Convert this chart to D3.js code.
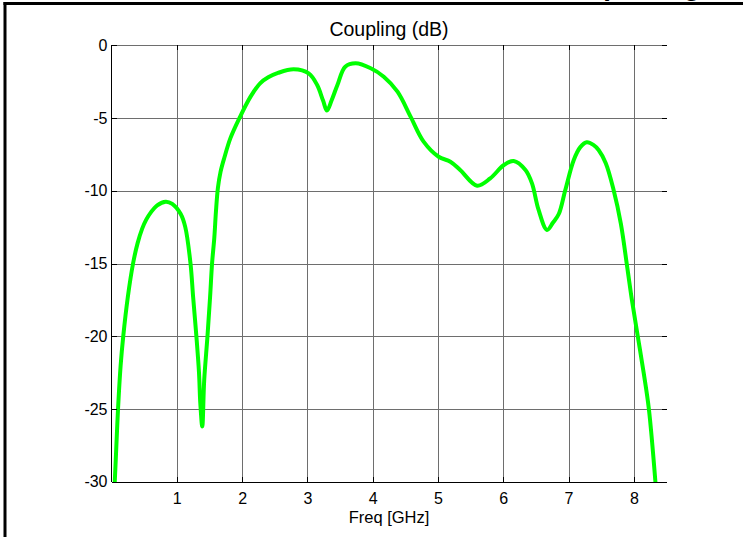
<!DOCTYPE html>
<html>
<head>
<meta charset="utf-8">
<script src="https://cdn.jsdelivr.net/npm/d3@7/dist/d3.min.js"></script>
<style>
  html, body { margin: 0; padding: 0; background: #fff; }
  svg { display: block; }
  text { font-family: "Liberation Sans", Arial, Helvetica, sans-serif; fill: #000; }
</style>
</head>
<body>
<svg id="chart" width="743" height="537"></svg>
<script>
// ---- data ----
const chartTitle = "Coupling (dB)";
const xLabel = "Freq [GHz]";
const clippedHeading = "(Tuning";
const xTicks = [1, 2, 3, 4, 5, 6, 7, 8];
const yTicks = [0, -5, -10, -15, -20, -25, -30];
const freq = [0.05, 0.07, 0.10, 0.14, 0.18, 0.25, 0.33, 0.40, 0.47, 0.53, 0.60, 0.70, 0.83, 0.93, 1.06, 1.13, 1.21, 1.25, 1.30, 1.34, 1.36, 1.39, 1.42, 1.47, 1.51, 1.54, 1.575, 1.60, 1.63, 1.67, 1.73, 1.82, 1.96, 2.13, 2.28, 2.40, 2.55, 2.79, 3.02, 3.15, 3.24, 3.30, 3.37, 3.46, 3.58, 3.74, 3.97, 4.17, 4.38, 4.58, 4.78, 5.01, 5.19, 5.34, 5.60, 5.80, 6.01, 6.16, 6.34, 6.44, 6.54, 6.67, 6.76, 6.85, 6.95, 7.08, 7.18, 7.28, 7.38, 7.46, 7.57, 7.69, 7.80, 7.90, 7.97, 8.06, 8.15, 8.23, 8.33];
const coupling = [-30, -28, -25, -22, -20, -17.3, -15, -13.6, -12.6, -12.0, -11.5, -11.0, -10.75, -10.9, -11.6, -12.5, -15, -17.3, -20, -22.5, -24.6, -26.2, -23, -20, -17.3, -15, -13.2, -11.4, -9.8, -8.7, -7.7, -6.4, -5, -3.53, -2.6, -2.2, -1.9, -1.65, -1.93, -2.73, -3.8, -4.49, -3.8, -2.73, -1.47, -1.24, -1.58, -2.16, -3.19, -4.9, -6.62, -7.66, -8.0, -8.57, -9.65, -9.15, -8.23, -7.95, -8.57, -9.49, -11.3, -12.69, -12.2, -11.6, -9.95, -7.88, -7.0, -6.67, -6.85, -7.2, -8.11, -9.95, -12.24, -15.3, -17.5, -20, -22.5, -25, -30];

(function () {
  const svg = d3.select("#chart");
  const W = 743, H = 537;
  const pL = 111.5, pR = 666.5, pT = 45.3, pB = 481.7;

  const x = d3.scaleLinear().domain([0, 8.5]).range([pL, pR]);
  const y = d3.scaleLinear().domain([-30, 0]).range([pB, pT]);

  svg.append("rect").attr("width", W).attr("height", H).attr("fill", "#fff");

  // grid
  const grid = svg.append("g").attr("stroke", "#6e6e6e").attr("stroke-width", 1).attr("shape-rendering", "crispEdges");
  grid.selectAll("line.v").data(xTicks).join("line").attr("class", "v")
    .attr("x1", d => Math.round(x(d)) + 0.5).attr("x2", d => Math.round(x(d)) + 0.5)
    .attr("y1", pT).attr("y2", pB);
  grid.selectAll("line.h").data(yTicks.filter(d => d > -30)).join("line").attr("class", "h")
    .attr("x1", pL).attr("x2", pR)
    .attr("y1", d => Math.round(y(d)) + 0.5).attr("y2", d => Math.round(y(d)) + 0.5);

  // curve
  svg.append("clipPath").attr("id", "clip").append("rect")
    .attr("x", pL).attr("y", pT - 1).attr("width", pR - pL).attr("height", pB - pT + 2);
  const pts = freq.map((f, i) => [f, coupling[i]]);
  const line = d3.line().x(d => x(d[0])).y(d => y(d[1])).curve(d3.curveCatmullRom.alpha(0.5));
  svg.append("path").datum(pts)
    .attr("clip-path", "url(#clip)")
    .attr("d", line)
    .attr("fill", "none")
    .attr("stroke", "#00ff00")
    .attr("stroke-width", 4)
    .attr("stroke-linejoin", "round")
    .attr("stroke-linecap", "round");

  // axes (D3 axes for tick labels)
  const tl = 5;
  const fmt = d => String(d);
  const xAxis = d3.axisBottom(x).tickValues(xTicks).tickFormat(fmt).tickSize(0).tickPadding(11);
  const gx = svg.append("g").attr("transform", `translate(0,${pB})`).call(xAxis);
  gx.select(".domain").remove();
  gx.selectAll("text").attr("font-size", 16).attr("font-family", "Liberation Sans, Arial, sans-serif");

  const yAxis = d3.axisLeft(y).tickValues(yTicks).tickFormat(fmt).tickSize(0).tickPadding(4);
  const gy = svg.append("g").attr("transform", `translate(${pL},0)`).call(yAxis);
  gy.select(".domain").remove();
  gy.selectAll("text").attr("font-size", 16).attr("font-family", "Liberation Sans, Arial, sans-serif");

  // tick marks (inward, all four sides)
  const tk = svg.append("g").attr("stroke", "#000").attr("stroke-width", 1).attr("shape-rendering", "crispEdges");
  xTicks.forEach(d => {
    const px = Math.round(x(d)) + 0.5;
    tk.append("line").attr("x1", px).attr("x2", px).attr("y1", pB).attr("y2", pB - tl);
    tk.append("line").attr("x1", px).attr("x2", px).attr("y1", pT).attr("y2", pT + tl);
  });
  yTicks.forEach(d => {
    const py = Math.round(y(d)) + 0.5;
    tk.append("line").attr("x1", pL).attr("x2", pL + tl).attr("y1", py).attr("y2", py);
    tk.append("line").attr("x1", pR).attr("x2", pR - tl).attr("y1", py).attr("y2", py);
  });

  // axis lines (left and bottom only)
  const ax = svg.append("g").attr("stroke", "#000").attr("stroke-width", 1).attr("shape-rendering", "crispEdges");
  ax.append("line").attr("x1", pL).attr("x2", pL).attr("y1", pT).attr("y2", pB + 0.5);
  ax.append("line").attr("x1", pL).attr("x2", pR).attr("y1", Math.round(pB) + 0.5).attr("y2", Math.round(pB) + 0.5);

  // title & label
  svg.append("text").attr("x", (pL + pR) / 2).attr("y", 36)
    .attr("text-anchor", "middle").attr("font-size", 19.5).text(chartTitle);
  svg.append("text").attr("x", (pL + pR) / 2).attr("y", 523)
    .attr("text-anchor", "middle").attr("font-size", 16.5).text(xLabel);

  // outer frame (left and top edges) and clipped heading above it
  svg.append("text").attr("x", 600).attr("y", -5).attr("font-size", 28).attr("font-weight", "bold").text(clippedHeading);
  const fr = svg.append("g").attr("stroke", "#000").attr("stroke-width", 3);
  fr.append("line").attr("x1", 5).attr("x2", 5).attr("y1", 2).attr("y2", H);
  fr.append("line").attr("x1", 3.5).attr("x2", W).attr("y1", 3.5).attr("y2", 3.5);
})();
</script>
</body>
</html>
